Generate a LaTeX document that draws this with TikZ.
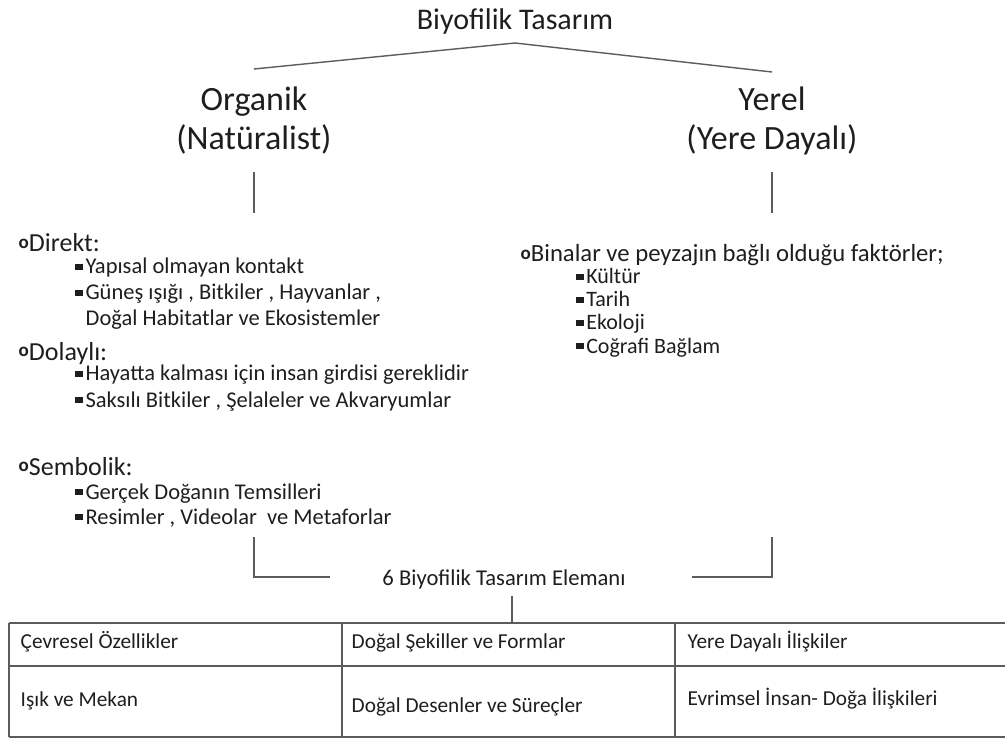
\documentclass[tikz,border=0pt]{standalone}
\usepackage{fontspec}
\setmainfont{Carlito}
\usetikzlibrary{positioning}

\definecolor{inkc}{HTML}{1E1E1E}
\definecolor{linec}{HTML}{5C5C5C}

% bullets of the two list levels
\newcommand{\ringbul}{\raisebox{0.12em}{\fontsize{19}{20}\selectfont\bfseries o}}
\newcommand{\sqbul}{\rule[0.18em]{0.38em}{0.28em}\hspace{0.1em}}

\begin{document}
\begin{tikzpicture}[x=1pt, y=-1pt, line width=1.4pt,
  txt/.style={inner sep=0pt, text=inkc},
  titletxt/.style={txt, anchor=base, font=\fontsize{30}{34}\selectfont},
  branch/.style={txt, anchor=base, font=\fontsize{34}{38}\selectfont},
  head/.style={txt, anchor=base west, font=\fontsize{26}{30}\selectfont},
  item/.style={txt, anchor=base west, font=\fontsize{22.5}{26}\selectfont},
  cell/.style={txt, anchor=base west, font=\fontsize{21.3}{25}\selectfont},
  conn/.style={draw=linec, line width=1.4pt}]

\useasboundingbox (0,0) rectangle (1005,738);

% Title and the two branches
\node[titletxt] (bio) at (515,30) {Biyofilik Tasarım};
\node[branch] (org) at (254,111) {Organik};
\node[branch] (nat) at (254,150) {(Natüralist)};
\node[branch] (yer) at (772,111) {Yerel};
\node[branch] (yda) at (772,150) {(Yere Dayalı)};

% Points where the connectors end
\coordinate (apex) at (515,43);
\coordinate (orgtop) at (254,69);
\coordinate (yertop) at (772,72);
\coordinate (orgA) at (254,172);
\coordinate (orgB) at (254,213);
\coordinate (yerA) at (772,172);
\coordinate (yerB) at (772,213);

\draw[conn] (orgtop) -- (apex) -- (yertop);
\draw[conn] (orgA) -- (orgB);
\draw[conn] (yerA) -- (yerB);

% Left list (Organik)
\node[head] (dir) at (18,252) {\ringbul Direkt:};
\node[item] (dir1) at (74,274) {\sqbul Yapısal olmayan kontakt};
\node[item] (dir2) at (74,300) {\sqbul Güneş ışığı , Bitkiler , Hayvanlar ,};
\node[item] (dir3) at (85,326) {Doğal Habitatlar ve Ekosistemler};

\node[head] (dol) at (18,360) {\ringbul Dolaylı:};
\node[item] (dol1) at (74,381) {\sqbul Hayatta kalması için insan girdisi gereklidir};
\node[item] (dol2) at (74,407) {\sqbul Saksılı Bitkiler , Şelaleler ve Akvaryumlar};

\node[head] (sem) at (18,475) {\ringbul Sembolik:};
\node[item] (sem1) at (74,499) {\sqbul Gerçek Doğanın Temsilleri};
\node[item] (sem2) at (74,524) {\sqbul Resimler , Videolar\ \ ve Metaforlar};

% Right list (Yerel)
\node[head, font=\fontsize{24.7}{28}\selectfont] (bin) at (520,262)
  {\ringbul Binalar ve peyzajın bağlı olduğu faktörler;};
\foreach \n\y\t in {kul/284/Kültür, tar/307/Tarih, eko/330/Ekoloji, cog/353/Coğrafi Bağlam} {
  \node[item, font=\fontsize{22}{26}\selectfont] (\n) at (575,\y) {\sqbul \t};
}

% Both branches meet at the element list
\node[txt, anchor=base, font=\fontsize{22.6}{26}\selectfont] (elem) at (504,585)
  {6 Biyofilik Tasarım Elemanı};
\coordinate (brL) at (254,537);
\coordinate (brLend) at (330,577);
\coordinate (brR) at (772,537);
\coordinate (brRend) at (692,577);
\coordinate (stemA) at (512,596);
\coordinate (stemB) at (512,623);

\draw[conn] (brL) |- (brLend);
\draw[conn] (brR) |- (brRend);
\draw[conn] (stemA) -- (stemB);

% Table of the six elements
\foreach \y in {623, 666, 737} {
  \draw[conn, line width=1.8pt] (9,\y) -- (1005,\y);
}
\foreach \x in {9, 342, 675} {
  \draw[conn, line width=1.8pt] (\x,623) -- (\x,737);
}

\node[cell] (c11) at (20,648) {Çevresel Özellikler};
\node[cell] (c12) at (351,648) {Doğal Şekiller ve Formlar};
\node[cell] (c13) at (687,648) {Yere Dayalı İlişkiler};
\node[cell] (c21) at (20,706) {Işık ve Mekan};
\node[cell] (c22) at (351,712) {Doğal Desenler ve Süreçler};
\node[cell] (c23) at (687,705) {Evrimsel İnsan- Doğa İlişkileri};

\end{tikzpicture}
\end{document}
